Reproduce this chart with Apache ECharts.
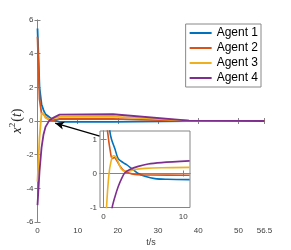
<!DOCTYPE html>
<html><head><meta charset="utf-8">
<script src="https://cdn.jsdelivr.net/npm/echarts@6/dist/echarts.min.js"></script>
<style>html,body{margin:0;padding:0;background:#fff}#c{width:291px;height:250px}</style>
</head><body><div id="c"></div>
<script>
const names = ['Agent 1', 'Agent 2', 'Agent 3', 'Agent 4'];
const colors = ['#0072BD', '#D95319', '#EDB120', '#7E2F8E'];

// main plot
const tMain = [0, 0.5, 1, 1.5, 2, 3, 4, 5.5, 18.8, 37.7, 56.5];
const a1Main = [5.5, 2.0, 1.0, 0.65, 0.4, 0.22, 0.05, -0.05, -0.05, 0.0, 0];
const a2Main = [5.0, 1.3, 0.45, 0.42, 0.24, 0.05, 0.05, 0.12, 0.13, 0.01, 0];
const a3Main = [-3.6, -1.0, 0.45, 0.45, 0.18, 0.08, 0.15, 0.24, 0.26, 0.02, 0];
const a4Main = [-5.0, -3.0, -1.6, -0.8, -0.35, 0.05, 0.2, 0.38, 0.4, 0.02, 0];
const xTicksMain = [0, 10, 20, 30, 40, 50, 56.5];
const yTicksMain = [-6, -4, -2, 0, 2, 4, 6];

// inset (zoom on t in [0, 10])
const a1InsetT = [0.6, 0.79, 1.0, 1.42, 1.83, 2.46, 2.88, 3.51, 4.35, 5.18, 6.44, 8.0, 10.8];
const a1Inset  = [1.8, 1.24, 1.0, 0.73, 0.44, 0.32, 0.26, 0.15, 0.0, -0.08, -0.15, -0.17, -0.18];
const a2InsetT = [0.35, 0.5, 0.92, 1.09, 1.34, 1.63, 2.05, 2.46, 3.09, 3.93, 6.0, 10.8];
const a2Inset  = [1.8, 1.24, 0.54, 0.44, 0.47, 0.39, 0.22, 0.1, 0.02, -0.03, -0.045, -0.05];
const a3InsetT = [0.2, 0.37, 0.66, 0.92, 1.2, 1.5, 1.83, 2.17, 2.59, 3.09, 3.93, 5.18, 7.27, 10.8];
const a3Inset  = [-2.0, -1.0, -0.05, 0.34, 0.52, 0.5, 0.34, 0.15, 0.07, 0.07, 0.12, 0.15, 0.17, 0.18];
const a4InsetT = [0.7, 1.08, 1.42, 1.83, 2.26, 2.67, 3.3, 4.35, 5.6, 7.27, 10.8];
const a4Inset  = [-1.7, -1.0, -0.69, -0.39, -0.15, 0.02, 0.12, 0.21, 0.28, 0.32, 0.37];
const xTicksInset = [0, 10];
const yTicksInset = [-1, 0, 1];

// annotation arrow (data coordinates of main axes)
const arrowFrom = [15.5, -0.9];
const arrowTo = [4.4, -0.13];

const pair = (t, v) => t.map((x, i) => [x, v[i]]);
const mainData = [a1Main, a2Main, a3Main, a4Main];
const insetData = [[a1InsetT, a1Inset], [a2InsetT, a2Inset], [a3InsetT, a3Inset], [a4InsetT, a4Inset]];

const axCol = '#858585';
const lblCol = '#404040';
const font = 'Liberation Sans, Arial, sans-serif';
const serif = 'Liberation Serif, DejaVu Serif, serif';

function ax(grid, pos, min, max, ticks, showLabel, margin) {
  return {
    type: 'value', gridIndex: grid, position: pos, min: min, max: max,
    axisLine: { show: true, lineStyle: { color: axCol, width: 1 } },
    axisTick: { show: true, inside: true, length: 3, customValues: ticks, lineStyle: { color: axCol } },
    axisLabel: { show: showLabel, customValues: ticks, fontSize: 8, color: lblCol, fontFamily: font, margin: margin },
    splitLine: { show: false }
  };
}

const xMain = ax(0, 'bottom', 0, 56.5, xTicksMain, true, 5);
xMain.name = 't/s';
xMain.nameLocation = 'middle';
xMain.nameGap = 16;
xMain.nameMoveOverlap = false;
xMain.nameTextStyle = { fontSize: 9, color: lblCol, fontFamily: font };
const yMain = ax(0, 'left', -6, 6, yTicksMain, true, 4);
yMain.name = '{i|x}{s|2}{n|(}{i|t}{n|)}';
yMain.nameLocation = 'middle';
yMain.nameGap = 12;
yMain.nameMoveOverlap = false;
yMain.nameTextStyle = {
  color: '#262626',
  rich: {
    i: { fontFamily: serif, fontStyle: 'italic', fontSize: 14, color: '#262626' },
    n: { fontFamily: serif, fontSize: 14, color: '#262626' },
    s: { fontFamily: serif, fontSize: 9, color: '#262626', padding: [0, 1, 8, 0] }
  }
};

const series = [];
names.forEach((n, i) => {
  const s = {
    name: n, type: 'line', xAxisIndex: 0, yAxisIndex: 0,
    data: pair(tMain, mainData[i]), showSymbol: false, symbol: 'none',
    lineStyle: { color: colors[i], width: 1.8 }, itemStyle: { color: colors[i] },
    animation: false, z: 3
  };
  if (i === 0) {
    s.markLine = {
      silent: true, symbol: ['none', 'arrow'], symbolSize: [6, 9], animation: false,
      lineStyle: { color: '#000', width: 1.3, type: 'solid' }, label: { show: false },
      data: [[{ coord: arrowFrom }, { coord: arrowTo }]]
    };
  }
  series.push(s);
});
names.forEach((n, i) => {
  series.push({
    name: n, type: 'line', xAxisIndex: 2, yAxisIndex: 2,
    data: pair(insetData[i][0], insetData[i][1]), showSymbol: false, symbol: 'none', smooth: 0.3,
    lineStyle: { color: colors[i], width: 1.6 }, itemStyle: { color: colors[i] },
    animation: false, z: 12, clip: true
  });
});

const chart = echarts.init(document.getElementById('c'), null, { renderer: 'canvas' });
chart.setOption({
  backgroundColor: '#fff',
  animation: false,
  grid: [
    { left: 37.5, top: 20, width: 227, height: 202, show: false, containLabel: false, outerBoundsMode: 'none' },
    { left: 100, top: 131, width: 90, height: 76.5, show: true, backgroundColor: '#fff', borderColor: axCol, borderWidth: 1, z: 10, containLabel: false, outerBoundsMode: 'none' }
  ],
  legend: {
    data: names, orient: 'vertical', right: 30, top: 24,
    itemWidth: 22, itemHeight: 2, icon: 'rect', itemGap: 3,
    padding: [3, 3, 3, 4],
    backgroundColor: '#fff', borderColor: '#888', borderWidth: 1,
    textStyle: { fontSize: 12, color: '#000', fontFamily: font }
  },
  xAxis: [
    xMain,
    ax(0, 'top', 0, 56.5, xTicksMain, false, 5),
    Object.assign(ax(1, 'bottom', -0.45, 10.85, xTicksInset, true, 5), { z: 11 }),
    Object.assign(ax(1, 'top', -0.45, 10.85, xTicksInset, false, 5), { z: 11 })
  ],
  yAxis: [
    yMain,
    ax(0, 'right', -6, 6, yTicksMain, false, 4),
    Object.assign(ax(1, 'left', -1, 1.25, yTicksInset, true, 3), { z: 11 }),
    Object.assign(ax(1, 'right', -1, 1.25, yTicksInset, false, 3), { z: 11 })
  ],
  series: series
});
</script>
</body></html>
